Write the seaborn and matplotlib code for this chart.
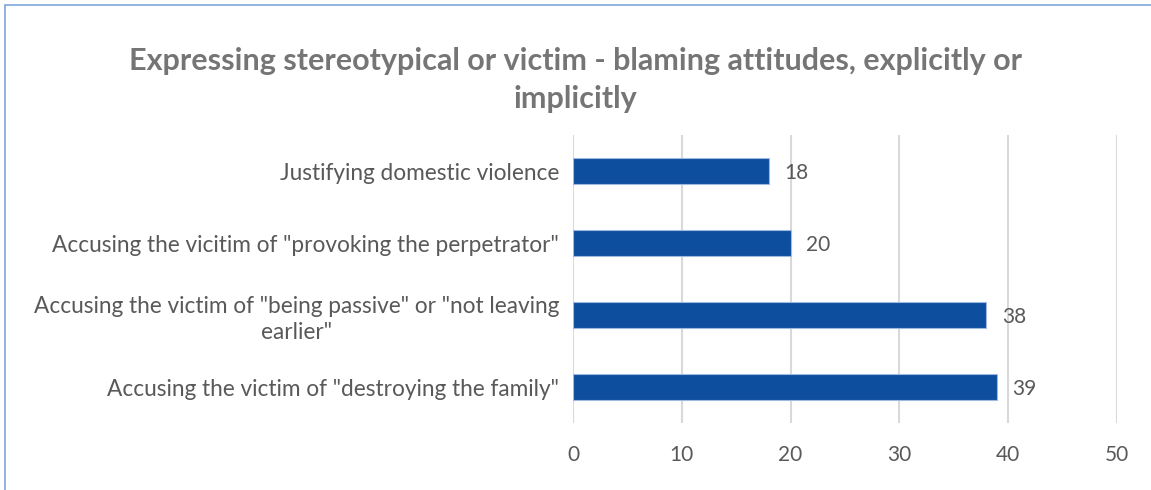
import matplotlib
matplotlib.use("Agg")
import matplotlib.pyplot as plt
import seaborn as sns
import pandas as pd
from matplotlib.patches import Rectangle

categories = [
    "Justifying domestic violence",
    "Accusing the vicitim of \"provoking the perpetrator\"",
    "Accusing the victim of \"being passive\" or \"not leaving\nearlier\"",
    "Accusing the victim of \"destroying the family\"",
]
values = [18, 20, 38, 39]
x_ticks = [0, 10, 20, 30, 40, 50]
title = "Expressing stereotypical or victim - blaming attitudes, explicitly or\nimplicitly"

sns.set_theme(style="white")
plt.rcParams['font.family'] = ['Lato', 'DejaVu Sans']

df = pd.DataFrame({"category": categories, "value": values})

fig = plt.figure(figsize=(11.51, 4.90), dpi=100)
ax = fig.add_axes([573/1151, 1 - 423/490, (1117-573)/1151, (423-135)/490])

sns.barplot(data=df, x="value", y="category", orient="h", color="#0D4F9E",
            width=0.36, saturation=1, edgecolor="#9DB9E0", linewidth=0.8, ax=ax, zorder=3)

ax.set_xlim(0, 50)
ax.set_xticks(x_ticks)
ax.set_xlabel("")
ax.set_ylabel("")
ax.grid(axis="x", color="#D9D9D9", linewidth=1.5, zorder=0)
ax.set_axisbelow(True)
for s in ax.spines.values():
    s.set_visible(False)
ax.tick_params(axis="x", length=0, colors="#595959", labelsize=15, pad=16)
ax.tick_params(axis="y", length=0, colors="#595959", labelsize=16.3, pad=10)
for lbl in ax.get_yticklabels():
    lbl.set_multialignment("center")
    lbl.set_linespacing(1.3)

for i, v in enumerate(values):
    ax.text(v + 1.4, i + 0.03, str(v), va="center", ha="left", color="#595959", fontsize=15)

fig.text(0.5, 1 - 80/490, title, ha="center", va="center", fontsize=22,
         fontweight="bold", color="#757575", linespacing=1.42)

fig.patches.append(Rectangle((5/1151, -0.1), 1.2, 1 - 5/490 + 0.1, transform=fig.transFigure,
                             fill=False, edgecolor="#7FA7D9", linewidth=1.2))

fig.savefig("out.png", dpi=100, facecolor="white")
